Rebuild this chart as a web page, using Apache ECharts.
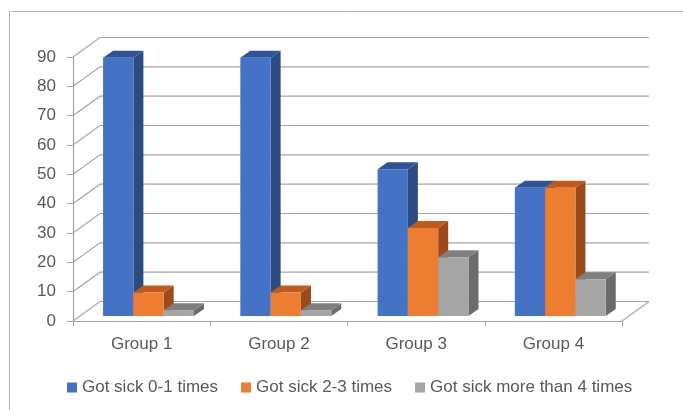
<!DOCTYPE html>
<html>
<head>
<meta charset="utf-8">
<title>Got sick by group</title>
<script src="https://cdn.jsdelivr.net/npm/echarts@6/dist/echarts.min.js"></script>
<style>
  html, body { margin: 0; padding: 0; background: #fff; }
  #chart { width: 683px; height: 410px; }
</style>
</head>
<body>
<!-- chart container -->
<div id="chart"></div>
<script>
// data
const categories = ["Group 1", "Group 2", "Group 3", "Group 4"];
const seriesNames = ["Got sick 0-1 times", "Got sick 2-3 times", "Got sick more than 4 times"];
const sick01 = [88, 88, 50, 43.75];
const sick23 = [8, 8, 30, 43.75];
const sick4plus = [2, 2, 20, 12.5];
const yTicks = [0, 10, 20, 30, 40, 50, 60, 70, 80, 90];

// faux 3d look: front / top / side colours
const faces = [
  { front: "#4472c4", top: "#2f5597", side: "#2b4b82" },
  { front: "#ed7d31", top: "#c05a1c", side: "#9c4a1a" },
  { front: "#a5a5a5", top: "#7f7f7f", side: "#6b6b6b" },
];
const WALL_DX = 27;   // back wall offset
const WALL_DY = -19.5;
const BAR_F = 0.256;  // where the bar front sits inside the floor depth
const BAR_DX = 10;    // bar depth
const BAR_DY = -7;
const textColor = "#595959";
const lineColor = "#a6a6a6";

const chart = echarts.init(document.getElementById("chart"));

// back wall + floor lines, one polyline per y tick
function renderWall(params, api) {
  const cs = params.coordSys;
  const y = api.coord([0, api.value(1)])[1];
  const children = [{
    type: "polyline",
    shape: { points: [[cs.x, y], [cs.x + WALL_DX, y + WALL_DY], [cs.x + cs.width + WALL_DX, y + WALL_DY]] },
    style: { stroke: lineColor, lineWidth: 1.2, fill: null },
  }];
  if (api.value(1) === 0) {
    // right edge of the floor
    children.push({
      type: "line",
      shape: { x1: cs.x + cs.width, y1: y, x2: cs.x + cs.width + WALL_DX, y2: y + WALL_DY },
      style: { stroke: lineColor, lineWidth: 1.2 },
    });
  }
  return { type: "group", children: children };
}

function makeBarRenderer(s) {
  return function (params, api) {
    const idx = api.value(0);
    const base = api.coord([idx, 0]);
    const topPt = api.coord([idx, api.value(1)]);
    const bandW = api.size([1, 0])[0];
    const barW = bandW * 0.2208;
    const sx = WALL_DX * BAR_F;
    const sy = WALL_DY * BAR_F;
    const xl = base[0] - 1.5 * barW + s * barW + sx;
    const xr = xl + barW;
    const yb = base[1] + sy;
    const yt = topPt[1] + sy;
    const f = faces[s];
    return {
      type: "group",
      children: [
        {
          type: "polygon",
          shape: { points: [[xr, yt], [xr + BAR_DX, yt + BAR_DY], [xr + BAR_DX, yb + BAR_DY], [xr, yb]] },
          style: { fill: f.side },
        },
        {
          type: "polygon",
          shape: { points: [[xl, yt], [xr, yt], [xr + BAR_DX, yt + BAR_DY], [xl + BAR_DX, yt + BAR_DY]] },
          style: { fill: f.top },
        },
        {
          type: "rect",
          shape: { x: xl, y: yt, width: barW, height: yb - yt },
          style: { fill: f.front },
        },
      ],
    };
  };
}

const values = [sick01, sick23, sick4plus];
const barSeries = values.map((vals, s) => ({
  name: seriesNames[s],
  type: "custom",
  renderItem: makeBarRenderer(s),
  itemStyle: { color: faces[s].front },
  encode: { x: 0, y: 1 },
  data: vals.map((v, i) => [i, v]),
}));

const option = {
  animation: false,
  textStyle: { fontFamily: "Liberation Sans" },
  graphic: [{
    type: "rect",
    silent: true,
    shape: { x: 9.5, y: 11.5, width: 700, height: 420 },
    style: { fill: null, stroke: "#b4b4b4", lineWidth: 1 },
  }],
  grid: {
    left: 73,
    right: 61,
    top: 57,
    bottom: 89,
    outerBoundsMode: "none",
  },
  legend: {
    data: seriesNames,
    left: 67,
    top: 379,
    padding: 0,
    icon: "rect",
    itemWidth: 10,
    itemHeight: 10,
    itemGap: 23,
    textStyle: { color: textColor, fontSize: 17, fontFamily: "Liberation Sans" },
  },
  xAxis: {
    type: "category",
    data: categories,
    axisLine: { lineStyle: { color: lineColor, width: 1.2 } },
    axisTick: { show: true, length: 5, lineStyle: { color: lineColor } },
    axisLabel: { color: textColor, fontSize: 17, margin: 15 },
    splitLine: { show: false },
  },
  yAxis: {
    type: "value",
    min: 0,
    max: 90,
    interval: 10,
    axisLine: { show: true, lineStyle: { color: lineColor, width: 1.2 } },
    axisTick: { show: true, length: 6, lineStyle: { color: lineColor } },
    axisLabel: { color: textColor, fontSize: 17, margin: 17 },
    splitLine: { show: false },
  },
  series: [
    {
      type: "custom",
      silent: true,
      renderItem: renderWall,
      encode: { x: 0, y: 1 },
      data: yTicks.map((v) => [0, v]),
      z: 1,
    },
  ].concat(barSeries),
};

chart.setOption(option);
</script>
</body>
</html>
